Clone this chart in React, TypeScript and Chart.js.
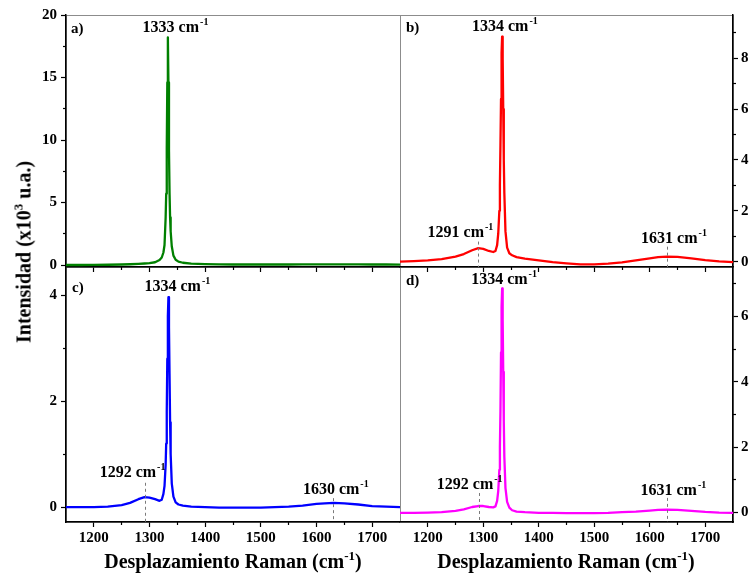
import React, { useEffect, useRef } from 'react';
import { Chart, registerables } from 'chart.js';

Chart.register(...registerables);

// ---------- data ----------
const WAVENUMBER = [
  1150, 1175, 1200, 1225, 1250, 1265, 1280, 1291, 1300, 1310,
  1318, 1322, 1325, 1327, 1329, 1330, 1331, 1332, 1333, 1334,
  1335, 1336, 1337, 1338, 1340, 1343, 1347, 1352, 1360, 1375,
  1400, 1425, 1450, 1475, 1500, 1525, 1550, 1575, 1600, 1615,
  1631, 1650, 1675, 1700, 1725, 1750,
];

const INTENSITY_A = [
  0.0, 0.0, 0.01, 0.02, 0.04, 0.06, 0.09, 0.12, 0.15, 0.22,
  0.4, 0.6, 1.0, 1.6, 3.8, 5.7, 9.3, 14.6, 18.2, 14.6,
  9.2, 5.8, 3.8, 2.7, 1.5, 0.75, 0.42, 0.27, 0.18, 0.11,
  0.07, 0.05, 0.04, 0.04, 0.04, 0.04, 0.04, 0.05, 0.05, 0.05,
  0.05, 0.05, 0.05, 0.04, 0.04, 0.03,
];

const INTENSITY_B = [
  0.0, 0.02, 0.05, 0.1, 0.2, 0.3, 0.45, 0.53, 0.5, 0.42,
  0.38, 0.42, 0.65, 1.1, 2.0, 3.0, 4.6, 6.4, 8.2, 8.85,
  8.0, 6.0, 4.0, 2.7, 1.2, 0.55, 0.33, 0.25, 0.18, 0.12,
  0.05, -0.02, -0.07, -0.11, -0.11, -0.08, -0.03, 0.05, 0.13, 0.18,
  0.2, 0.19, 0.13, 0.06, 0.01, -0.02,
];

const INTENSITY_C = [
  0.0, 0.0, 0.0, 0.01, 0.04, 0.08, 0.15, 0.19, 0.18, 0.15,
  0.12, 0.14, 0.25, 0.4, 0.8, 1.2, 1.8, 2.8, 3.6, 3.96,
  3.4, 2.5, 1.6, 1.0, 0.45, 0.2, 0.09, 0.05, 0.03, 0.01,
  0.0, -0.01, -0.01, -0.01, -0.01, 0.0, 0.01, 0.03, 0.06, 0.07,
  0.08, 0.07, 0.05, 0.02, 0.01, 0.0,
];

const INTENSITY_D = [
  -0.02, -0.02, -0.01, 0.0, 0.04, 0.09, 0.16, 0.19, 0.19, 0.16,
  0.15, 0.18, 0.35, 0.65, 1.3, 2.0, 3.1, 4.9, 6.3, 6.86,
  5.9, 4.3, 2.8, 1.7, 0.75, 0.32, 0.14, 0.06, 0.02, 0.0,
  -0.02, -0.02, -0.03, -0.03, -0.03, -0.02, 0.0, 0.02, 0.05, 0.07,
  0.08, 0.07, 0.04, 0.01, -0.01, -0.02,
];

const X_MIN = 1150;
const X_MAX = 1750;
const X_MAJOR_TICKS = [1200, 1300, 1400, 1500, 1600, 1700];
const X_MINOR_TICKS = [1250, 1350, 1450, 1550, 1650];

const Y_MAJOR_A = [0, 5, 10, 15, 20];
const Y_MINOR_A = [2.5, 7.5, 12.5, 17.5];
const Y_MAJOR_B = [0, 2, 4, 6, 8];
const Y_MINOR_B = [1, 3, 5, 7, 9];
const Y_MAJOR_C = [0, 2, 4];
const Y_MINOR_C = [1, 3];
const Y_MAJOR_D = [0, 2, 4, 6];
const Y_MINOR_D = [1, 3, 5, 7];

const PEAKS_A = [{ text: '1333', cx: 1346.7, base: 18.66 }];
const PEAKS_B = [
  { text: '1334', cx: 1339, base: 9.06 },
  { text: '1291', cx: 1259, base: 0.96, dashAt: 1291, dashTop: 0.79 },
  { text: '1631', cx: 1643.7, base: 0.75, dashAt: 1631, dashTop: 0.59 },
];
const PEAKS_C = [
  { text: '1334', cx: 1350, base: 4.07 },
  { text: '1292', cx: 1269.5, base: 0.57, dashAt: 1292, dashTop: 0.46 },
  { text: '1630', cx: 1634.7, base: 0.25, dashAt: 1630, dashTop: 0.17 },
];
const PEAKS_D = [
  { text: '1334', cx: 1337.4, base: 6.99 },
  { text: '1292', cx: 1275.6, base: 0.71, dashAt: 1292, dashTop: 0.59 },
  { text: '1631', cx: 1642.5, base: 0.53, dashAt: 1631, dashTop: 0.44 },
];

// ---------- layout / style ----------
const W = 750;
const H = 578;
const FONT = '"Liberation Serif", "Times New Roman", serif';

type Panel = {
  key: string;
  letter: string;
  color: string;
  ys: number[];
  yMin: number;
  yMax: number;
  yMajor: number[];
  yMinor: number[];
  side: 'left' | 'right';
  area: { left: number; top: number; right: number; bottom: number };
  showXLabels: boolean;
  letterOffset: { dx: number; dy: number };
  peaks: { text: string; cx: number; base: number; dashAt?: number; dashTop?: number }[];
};

const PANELS: Panel[] = [
  {
    key: 'c', letter: 'c)', color: '#0000ff', ys: INTENSITY_C, yMin: -0.28, yMax: 4.53,
    yMajor: Y_MAJOR_C, yMinor: Y_MINOR_C, side: 'left',
    area: { left: 66, top: 267, right: 400, bottom: 522 }, showXLabels: true,
    letterOffset: { dx: 6, dy: 25 }, peaks: PEAKS_C,
  },
  {
    key: 'd', letter: 'd)', color: '#ff00ff', ys: INTENSITY_D, yMin: -0.3, yMax: 7.52,
    yMajor: Y_MAJOR_D, yMinor: Y_MINOR_D, side: 'right',
    area: { left: 400, top: 267, right: 733, bottom: 522 }, showXLabels: true,
    letterOffset: { dx: 6, dy: 18 }, peaks: PEAKS_D,
  },
  {
    key: 'a', letter: 'a)', color: '#008000', ys: INTENSITY_A, yMin: -0.16, yMax: 20,
    yMajor: Y_MAJOR_A, yMinor: Y_MINOR_A, side: 'left',
    area: { left: 66, top: 15, right: 400, bottom: 267 }, showXLabels: false,
    letterOffset: { dx: 5, dy: 18 }, peaks: PEAKS_A,
  },
  {
    key: 'b', letter: 'b)', color: '#ff0000', ys: INTENSITY_B, yMin: -0.21, yMax: 9.7,
    yMajor: Y_MAJOR_B, yMinor: Y_MINOR_B, side: 'right',
    area: { left: 400, top: 15, right: 733, bottom: 267 }, showXLabels: false,
    letterOffset: { dx: 6, dy: 17 }, peaks: PEAKS_B,
  },
];

function fixedSize(size: number) {
  return (s: any) => {
    if (s.isHorizontal()) s.height = size;
    else s.width = size;
    s.paddingLeft = 0;
    s.paddingRight = 0;
    s.paddingTop = 0;
    s.paddingBottom = 0;
  };
}

function setTicks(values: number[]) {
  return (s: any) => {
    s.ticks = values.map((v) => ({ value: v }));
  };
}

function axis(opts: {
  position: string; min: number; max: number; values: number[]; major: boolean; showLabels: boolean; size: number;
}) {
  return {
    type: 'linear',
    position: opts.position,
    weight: opts.major ? 1 : 0,
    min: opts.min,
    max: opts.max,
    afterBuildTicks: setTicks(opts.values),
    afterFit: fixedSize(opts.size),
    grid: {
      display: true,
      drawOnChartArea: false,
      drawTicks: true,
      tickLength: opts.major ? 5 : 3,
      tickWidth: 1.2,
      tickColor: '#000',
      color: '#000',
    },
    border: { display: opts.major, color: '#000', width: 1.5 },
    ticks: {
      display: opts.showLabels,
      autoSkip: false,
      maxRotation: 0,
      minRotation: 0,
      padding: opts.position === 'bottom' ? 2 : opts.position === 'left' ? 4 : 3,
      color: '#000',
      font: { family: FONT, size: 15, weight: 'bold' },
      callback: (v: any) => String(v),
    },
  };
}

function drawPeakLabel(ctx: CanvasRenderingContext2D, text: string, cx: number, base: number) {
  const main = text + ' cm';
  ctx.font = `bold 16px ${FONT}`;
  const w1 = ctx.measureText(main).width;
  ctx.font = `bold 10px ${FONT}`;
  const w2 = ctx.measureText('-1').width;
  const total = w1 + 1 + w2;
  const x0 = cx - total / 2;
  ctx.fillStyle = '#000';
  ctx.textAlign = 'left';
  ctx.textBaseline = 'alphabetic';
  ctx.font = `bold 16px ${FONT}`;
  ctx.fillText(main, x0, base);
  ctx.font = `bold 10px ${FONT}`;
  ctx.fillText('-1', x0 + w1 + 1, base - 7);
}

function makeDecor(p: Panel) {
  return {
    id: 'decor-' + p.key,
    beforeDraw(chart: any) {
      const { ctx, chartArea: a } = chart;
      ctx.save();
      ctx.strokeStyle = '#8c8c8c';
      ctx.lineWidth = 1;
      ctx.strokeRect(a.left + 0.5, a.top + 0.5, a.right - a.left, a.bottom - a.top);
      ctx.restore();
    },
    afterDatasetsDraw(chart: any) {
      const { ctx, chartArea: a, scales } = chart;
      const xs = scales.x;
      const ys = scales.y;
      ctx.save();
      for (const pk of p.peaks) {
        if (pk.dashAt !== undefined && pk.dashTop !== undefined) {
          const x = Math.round(xs.getPixelForValue(pk.dashAt)) + 0.5;
          ctx.strokeStyle = '#7a7a7a';
          ctx.lineWidth = 1;
          ctx.setLineDash([3, 3]);
          ctx.beginPath();
          ctx.moveTo(x, ys.getPixelForValue(pk.dashTop));
          ctx.lineTo(x, a.bottom);
          ctx.stroke();
          ctx.setLineDash([]);
        }
        drawPeakLabel(ctx, pk.text, xs.getPixelForValue(pk.cx), ys.getPixelForValue(pk.base));
      }
      ctx.fillStyle = '#000';
      ctx.font = `bold 15px ${FONT}`;
      ctx.textAlign = 'left';
      ctx.textBaseline = 'alphabetic';
      ctx.fillText(p.letter, a.left + p.letterOffset.dx, a.top + p.letterOffset.dy);
      ctx.restore();
    },
  };
}

function buildChart(canvas: HTMLCanvasElement, p: Panel) {
  const ySize = p.side === 'left' ? p.area.left : W - p.area.right;
  const xSize = H - p.area.bottom;
  return new Chart(canvas, {
    type: 'line',
    data: {
      datasets: [
        {
          data: WAVENUMBER.map((x, i) => ({ x, y: p.ys[i] })),
          borderColor: p.color,
          borderWidth: 2.3,
          borderJoinStyle: 'round',
          pointRadius: 0,
          fill: false,
          tension: 0,
          xAxisID: 'x',
          yAxisID: 'y',
        },
      ],
    },
    options: {
      responsive: false,
      animation: false,
      events: [],
      devicePixelRatio: 1,
      layout: {
        padding: {
          left: p.side === 'left' ? 0 : p.area.left,
          top: p.area.top,
          right: p.side === 'right' ? 0 : W - p.area.right,
          bottom: 0,
        },
      },
      plugins: { legend: { display: false }, tooltip: { enabled: false }, title: { display: false } },
      scales: {
        x: axis({ position: 'bottom', min: X_MIN, max: X_MAX, values: X_MAJOR_TICKS, major: true, showLabels: p.showXLabels, size: xSize }),
        xm: axis({ position: 'bottom', min: X_MIN, max: X_MAX, values: X_MINOR_TICKS, major: false, showLabels: false, size: 0 }),
        y: axis({ position: p.side, min: p.yMin, max: p.yMax, values: p.yMajor, major: true, showLabels: true, size: ySize }),
        ym: axis({ position: p.side, min: p.yMin, max: p.yMax, values: p.yMinor, major: false, showLabels: false, size: 0 }),
      },
    } as any,
    plugins: [makeDecor(p)],
  });
}

const supStyle: React.CSSProperties = { fontSize: 13, position: 'relative', top: -8 };

export default function App() {
  const refs = useRef<(HTMLCanvasElement | null)[]>([]);

  useEffect(() => {
    const charts = PANELS.map((p, i) => buildChart(refs.current[i] as HTMLCanvasElement, p));
    return () => charts.forEach((c) => c.destroy());
  }, []);

  const xTitle = (cx: number) => (
    <div
      style={{
        position: 'absolute', left: cx, top: 551, transform: 'translateX(-50%)',
        whiteSpace: 'nowrap', fontFamily: FONT, fontWeight: 'bold', fontSize: 20, lineHeight: '20px', color: '#000',
      }}
    >
      Desplazamiento Raman (cm<span style={supStyle}>-1</span>)
    </div>
  );

  return (
    <div style={{ position: 'absolute', left: 0, top: 0, width: W, height: H, background: '#fff', overflow: 'hidden' }}>
      {PANELS.map((p, i) => (
        <canvas
          key={p.key}
          ref={(el) => { refs.current[i] = el; }}
          width={W}
          height={H}
          style={{ position: 'absolute', left: 0, top: 0, width: W, height: H }}
        />
      ))}
      <div
        style={{
          position: 'absolute', left: 25, top: 252, transform: 'translate(-50%, -50%) rotate(-90deg)',
          whiteSpace: 'nowrap', fontFamily: FONT, fontWeight: 'bold', fontSize: 20, lineHeight: '20px', color: '#000',
        }}
      >
        Intensidad (x10<span style={supStyle}>3</span> u.a.)
      </div>
      {xTitle(233)}
      {xTitle(566)}
    </div>
  );
}
